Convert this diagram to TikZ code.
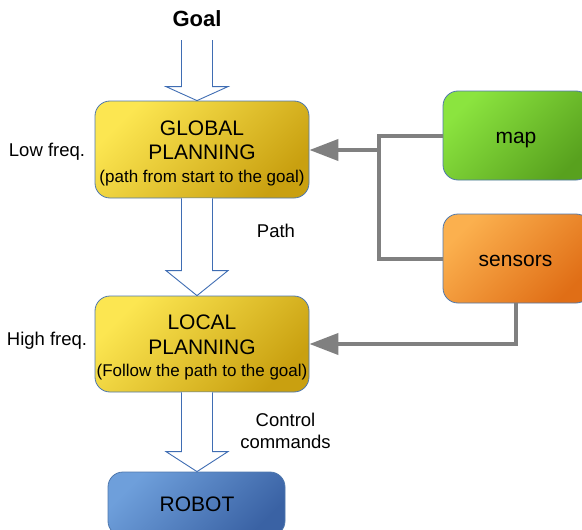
\documentclass[tikz,border=0pt]{standalone}
\usepackage{fontspec}
\setmainfont{Liberation Sans}
\usetikzlibrary{arrows.meta,calc}
\definecolor{bordblue}{HTML}{4F78AD}
\definecolor{arrblue}{HTML}{3F6DB3}
\definecolor{yellowA}{HTML}{FCE651}
\definecolor{yellowB}{HTML}{C9A010}
\definecolor{greenA}{HTML}{8BE43F}
\definecolor{greenB}{HTML}{58A11E}
\definecolor{orangeA}{HTML}{FBB04E}
\definecolor{orangeB}{HTML}{E06E16}
\definecolor{blueA}{HTML}{6E9FDB}
\definecolor{blueB}{HTML}{3A62A4}
\definecolor{conngray}{HTML}{808080}
\newcommand{\smalltxt}{\fontsize{17}{20}\selectfont}
\tikzset{
  box/.style={draw=bordblue, line width=0.8pt, rounded corners=15pt, inner sep=0pt},
  yel/.style={box, top color=yellowA, bottom color=yellowB, shading angle=45},
  grn/.style={box, top color=greenA, bottom color=greenB, shading angle=45},
  org/.style={box, top color=orangeA, bottom color=orangeB, shading angle=45},
  blu/.style={box, top color=blueA, bottom color=blueB, shading angle=45},
  barrow/.style={draw=arrblue, line width=0.9pt, fill=white, line join=miter},
  conn/.style={draw=conngray, line width=4pt},
  connarr/.style={conn, -{Triangle[length=29pt,width=21pt]}},
  lbl/.style={font=\fontsize{18.5}{22.5}\selectfont, align=center, inner sep=0pt},
  big/.style={font=\fontsize{21}{24.5}\selectfont, align=center, inner sep=0pt},
}
\begin{document}
\begin{tikzpicture}[x=1pt,y=-1pt]
\useasboundingbox (0,0) rectangle (582,530);
\clip (0,0) rectangle (582,530);

\node[yel, minimum width=214pt, minimum height=97pt] (glob) at (202,149.5) {};
\node[big] (globtxt) at (202,153) {GLOBAL\\PLANNING\\[-2pt]\smalltxt (path from start to the goal)};
\node[yel, minimum width=214pt, minimum height=96pt] (loc) at (202,344) {};
\node[big] (loctxt) at (202,347.5) {LOCAL\\PLANNING\\[-2pt]\smalltxt (Follow the path to the goal)};
\node[blu, minimum width=177pt, minimum height=64pt] (robot) at (196.5,504) {};
\node[big, anchor=base] (robottxt) at (197,511) {ROBOT};
\node[grn, minimum width=148pt, minimum height=89pt] (map) at (517,135.5) {};
\node[big, anchor=base] (maptxt) at (516,143) {map};
\node[org, minimum width=148pt, minimum height=89pt] (sens) at (517,258.5) {};
\node[big, anchor=base] (senstxt) at (515.5,266) {sensors};

\node[font=\fontsize{22}{26}\selectfont\bfseries, inner sep=0pt] (goal) at (197,19) {Goal};
\node[lbl] (low) at (47,152) {Low freq.};
\node[lbl] (high) at (47,341) {High freq.};
\node[lbl] (pathlbl) at (276,231) {Path};
\node[lbl] (ctrl) at (285.5,431) {Control\\commands};

% block arrows (all centred on x = 197)
\coordinate (gtop) at (197,40);
\coordinate (gtip) at (gtop |- glob.north);
\coordinate (ptop) at (gtop |- glob.south);
\coordinate (ptip) at (gtop |- loc.north);
\coordinate (ctop) at (gtop |- loc.south);
\coordinate (ctip) at (gtop |- robot.north);
\draw[barrow] ($(gtop)+(-15.5,0)$) -- ($(gtip)+(-15.5,-14)$) -- ($(gtip)+(-31,-14)$)
  -- (gtip) -- ($(gtip)+(31,-14)$) -- ($(gtip)+(15.5,-14)$) -- ($(gtop)+(15.5,0)$);
\draw[barrow] ($(ptop)+(-15.5,0)$) -- ($(ptip)+(-15.5,-25)$) -- ($(ptip)+(-31,-25)$)
  -- (ptip) -- ($(ptip)+(31,-25)$) -- ($(ptip)+(15.5,-25)$) -- ($(ptop)+(15.5,0)$);
\draw[barrow] ($(ctop)+(-15.5,0)$) -- ($(ctip)+(-15.5,-20)$) -- ($(ctip)+(-31,-20)$)
  -- (ctip) -- ($(ctip)+(31,-20)$) -- ($(ctip)+(15.5,-20)$) -- ($(ctop)+(15.5,0)$);

% gray connectors
\coordinate (jn) at (379,150);
\draw[conn, line join=miter] (map.west |- 0,136) -- (379,136) -- (379,259) -- (sens.west |- 0,259);
\draw[connarr] (jn) -- (glob.east |- jn);
\draw[connarr] (516,303) -- (516,344) -- (loc.east |- 0,344);
\end{tikzpicture}
\end{document}
